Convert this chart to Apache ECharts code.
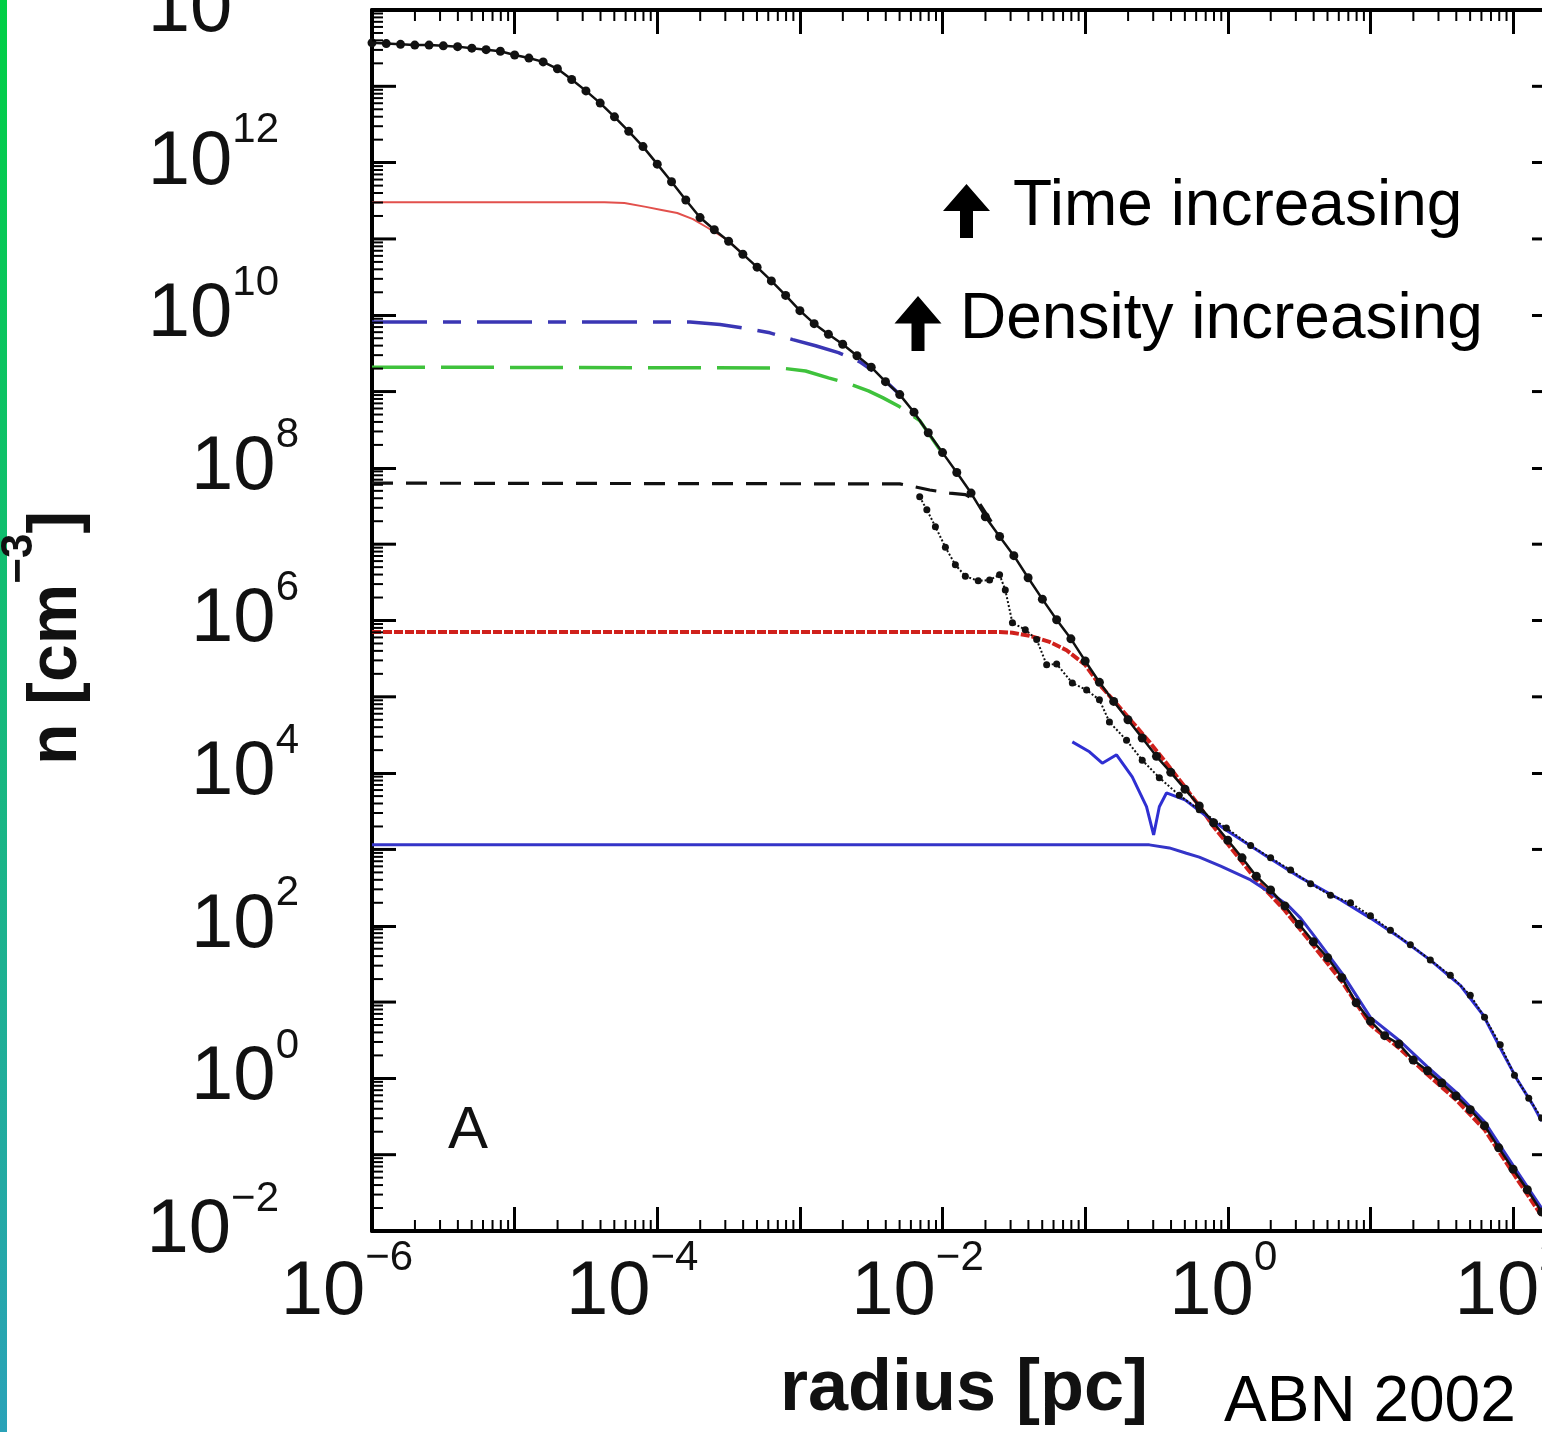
<!DOCTYPE html>
<html>
<head>
<meta charset="utf-8">
<script src="https://cdn.jsdelivr.net/npm/echarts@6/dist/echarts.min.js"></script>
<style>
  html, body { margin: 0; padding: 0; background: #fff; }
  #chart { width: 1542px; height: 1432px; }
</style>
</head>
<body>
<div id="chart"></div>
<script>
// Spherically averaged gas number density profiles, n(r), at successive times.
// All profile values are stored as log10(radius / pc) and log10(n / cm^-3).

// ---- axis ticks and labels ----
const xTickExponents = [-6, -5, -4, -3, -2, -1, 0, 1, 2];
const xLabelExponents = [-6, -4, -2, 0, 2];
const yTickExponents = [-2, -1, 0, 1, 2, 3, 4, 5, 6, 7, 8, 9, 10, 11, 12, 13];
const yLabelExponents = [-2, 0, 2, 4, 6, 8, 10, 12, 14];
const minorSteps = [2, 3, 4, 5, 6, 7, 8, 9];

// ---- final output: black line with filled dots ----
const finalLogR = [
  -6.0, -5.9, -5.8, -5.7, -5.6, -5.5, -5.4, -5.3, -5.2, -5.1,
  -5.0, -4.9, -4.8, -4.7, -4.6, -4.5, -4.4, -4.3, -4.2, -4.1,
  -4.0, -3.9, -3.8, -3.7, -3.6, -3.5, -3.4, -3.3, -3.2, -3.1,
  -3.0, -2.9, -2.8, -2.7, -2.6, -2.5, -2.4, -2.3, -2.2, -2.1,
  -2.0, -1.9, -1.8, -1.7, -1.6, -1.5, -1.4, -1.3, -1.2, -1.1,
  -1.0, -0.9, -0.8, -0.7, -0.6, -0.5, -0.4, -0.3, -0.2, -0.1,
  0.0, 0.1, 0.2, 0.3, 0.4, 0.5, 0.6, 0.7, 0.8, 0.9,
  1.0, 1.1, 1.2, 1.3, 1.4, 1.5, 1.6, 1.7, 1.8, 1.9,
  2.0, 2.1, 2.2
];
const finalLogN = [
  13.57, 13.56, 13.55, 13.54, 13.54, 13.53, 13.52, 13.50, 13.48, 13.46,
  13.41, 13.37, 13.32, 13.23, 13.09, 12.94, 12.78, 12.60, 12.41, 12.21,
  11.98, 11.75, 11.51, 11.28, 11.12, 10.97, 10.80, 10.63, 10.45, 10.26,
  10.06, 9.89, 9.75, 9.62, 9.47, 9.32, 9.13, 8.96, 8.73, 8.46,
  8.20, 7.94, 7.67, 7.36, 7.10, 6.85, 6.56, 6.28, 6.01, 5.76,
  5.47, 5.19, 4.94, 4.70, 4.46, 4.22, 4.01, 3.79, 3.57, 3.35,
  3.12, 2.89, 2.65, 2.47, 2.26, 2.02, 1.79, 1.58, 1.32, 0.99,
  0.75, 0.56, 0.45, 0.24, 0.10, -0.06, -0.23, -0.41, -0.62, -0.91,
  -1.19, -1.46, -1.75
];

// ---- thin red solid ----
const redThinLogR = [-6.0, -4.37, -4.23, -4.08, -3.97, -3.86, -3.75, -3.65, -3.51, -3.37];
const redThinLogN = [11.48, 11.48, 11.47, 11.42, 11.38, 11.34, 11.26, 11.15, 10.99, 10.75];

// ---- blue dash-dot ----
const blueDashDotLogR = [-6.0, -3.77, -3.56, -3.39, -3.21, -3.05, -2.89, -2.73, -2.58, -2.44, -2.30];
const blueDashDotLogN = [9.91, 9.91, 9.88, 9.83, 9.77, 9.68, 9.60, 9.51, 9.39, 9.21, 8.96];

// ---- green dashed ----
const greenLogR = [-6.0, -3.14, -2.96, -2.80, -2.65, -2.52, -2.42, -2.30, -2.16, -2.02];
const greenLogN = [9.32, 9.31, 9.27, 9.18, 9.10, 9.01, 8.92, 8.80, 8.62, 8.24];

// ---- black dashed ----
const blackDashLogR = [-6.0, -2.30, -2.19, -2.09, -1.95, -1.84, -1.75, -1.67, -1.60];
const blackDashLogN = [7.80, 7.79, 7.75, 7.71, 7.67, 7.65, 7.56, 7.33, 7.10];

// ---- thick red dashed ----
const redDashLogR = [-6.0, -1.60, -1.51, -1.39, -1.25, -1.13, -1.00, -0.90, -0.78, -0.67,
  -0.55, -0.43, -0.31, -0.20, -0.1, 0.0, 0.2, 0.4, 0.6, 0.8, 1.0, 1.2, 1.4, 1.6, 1.8, 2.0, 2.2];
const redDashLogN = [5.85, 5.85, 5.84, 5.80, 5.72, 5.61, 5.42, 5.16, 4.91, 4.67,
  4.41, 4.13, 3.84, 3.57, 3.30, 3.07, 2.60, 2.20, 1.74, 1.27, 0.70, 0.40, 0.05, -0.28, -0.67, -1.24, -1.80];

// ---- earliest profile, blue solid ----
const blueSolidLogR = [-6.0, -0.55, -0.41, -0.29, -0.20, -0.05, 0.16, 0.30, 0.42, 0.51,
  0.60, 0.8, 1.0, 1.2, 1.4, 1.6, 1.8, 2.0, 2.2];
const blueSolidLogN = [3.06, 3.06, 3.02, 2.95, 2.90, 2.78, 2.60, 2.43, 2.27, 2.10,
  1.88, 1.38, 0.80, 0.50, 0.15, -0.18, -0.57, -1.14, -1.70];

// ---- outer blue profile with the inner spike ----
const blueOuterLogR = [-1.09, -0.97, -0.88, -0.78, -0.67, -0.57, -0.52, -0.48, -0.43, -0.30,
  -0.16, -0.01, 0.28, 0.51, 0.79, 1.00, 1.21, 1.42, 1.63, 1.79, 1.93, 2.03, 2.14, 2.20];
const blueOuterLogN = [4.41, 4.28, 4.13, 4.24, 3.95, 3.56, 3.19, 3.56, 3.74, 3.65,
  3.45, 3.25, 2.90, 2.63, 2.34, 2.10, 1.84, 1.55, 1.22, 0.83, 0.33, -0.02, -0.35, -0.56];

// ---- black dotted profile with small dots ----
const dottedLogR = [-2.16, -2.11, -2.05, -1.98, -1.91, -1.84, -1.75, -1.67, -1.60, -1.56,
  -1.51, -1.42, -1.34, -1.27, -1.20, -1.09, -0.99, -0.90, -0.83, -0.71,
  -0.60, -0.48, -0.34, -0.20, -0.01, 0.16, 0.30, 0.44, 0.58, 0.72,
  0.86, 1.00, 1.14, 1.28, 1.42, 1.56, 1.70, 1.80, 1.91, 2.01, 2.11, 2.20];
const dottedLogN = [7.62, 7.45, 7.23, 6.96, 6.73, 6.58, 6.52, 6.53, 6.60, 6.40,
  5.97, 5.88, 5.75, 5.42, 5.43, 5.18, 5.09, 4.96, 4.67, 4.43,
  4.17, 3.94, 3.71, 3.52, 3.28, 3.05, 2.89, 2.73, 2.55, 2.40,
  2.30, 2.13, 1.94, 1.75, 1.55, 1.35, 1.09, 0.80, 0.44, 0.04, -0.26, -0.52];

// ---- helpers ----
const FONT = "'Liberation Sans', Arial, Helvetica, sans-serif";
const X_MIN = 1e-6, X_MAX = 200, Y_MIN = 1e-2, Y_MAX = 1e14;
const MAJOR_LEN = 24, MINOR_LEN = 11;
const MINUS = '\u2212';

function toPoints(logR, logN) {
  return logR.map((lr, i) => [Math.pow(10, lr), Math.pow(10, logN[i])]);
}
function exponentOf(v) { return Math.round(Math.log10(v)); }
function isPowerOfTen(v) { return Math.abs(Math.log10(v) - exponentOf(v)) < 1e-6; }

// tick marks that the log axes do not draw themselves
const tickMarks = [];
xTickExponents.forEach(e => minorSteps.forEach(m => {
  const v = m * Math.pow(10, e);
  if (v < X_MAX) tickMarks.push([v, Y_MIN, 0]);
}));
yTickExponents.forEach(e => {
  minorSteps.forEach(m => tickMarks.push([X_MIN, m * Math.pow(10, e), 1]));
  if (Math.abs(e) % 2 === 1) tickMarks.push([X_MIN, Math.pow(10, e), 2]);
});

function renderTicks(params, api) {
  const kind = api.value(2);
  const st = { stroke: '#000', lineWidth: kind === 2 ? 3 : 2 };
  if (kind === 0) {
    const v = api.value(0);
    const b = api.coord([v, Y_MIN]);
    const t = api.coord([v, Y_MAX]);
    return { type: 'group', children: [
      { type: 'line', shape: { x1: b[0], y1: b[1], x2: b[0], y2: b[1] - MINOR_LEN }, style: st },
      { type: 'line', shape: { x1: t[0], y1: t[1], x2: t[0], y2: t[1] + MINOR_LEN }, style: st }
    ] };
  }
  const len = kind === 2 ? MAJOR_LEN : MINOR_LEN;
  const v = api.value(1);
  const l = api.coord([X_MIN, v]);
  const r = api.coord([X_MAX, v]);
  return { type: 'group', children: [
    { type: 'line', shape: { x1: l[0], y1: l[1], x2: l[0] + len, y2: l[1] }, style: st },
    { type: 'line', shape: { x1: r[0], y1: r[1], x2: r[0] - len, y2: r[1] }, style: st }
  ] };
}

function arrowShape(cx, top, bottom) {
  const headH = (bottom - top) * 0.5, headW = 23.5, shaftW = 6.5;
  return [[cx, top], [cx + headW, top + headH], [cx + shaftW, top + headH], [cx + shaftW, bottom],
          [cx - shaftW, bottom], [cx - shaftW, top + headH], [cx - headW, top + headH]];
}

const baseLabel = { fontFamily: FONT, fontSize: 76, lineHeight: 76, color: '#111' };
const supLabel = { fontFamily: FONT, fontSize: 42, lineHeight: 76, color: '#111' };
const frameLine = { show: true, onZero: false, lineStyle: { color: '#000', width: 4 } };
const frameTick = { show: true, inside: true, length: MAJOR_LEN, lineStyle: { color: '#000', width: 3 } };

const chart = echarts.init(document.getElementById('chart'), null, { renderer: 'canvas' });

chart.setOption({
  animation: false,
  backgroundColor: '#fff',
  textStyle: { fontFamily: FONT },
  grid: { left: 372, top: 10, right: -14, bottom: 201, containLabel: false, outerBoundsMode: 'none' },
  xAxis: [{
    type: 'log', logBase: 10, min: X_MIN, max: X_MAX, position: 'bottom',
    axisLine: frameLine, axisTick: frameTick, splitLine: { show: false },
    axisLabel: {
      margin: 24,
      formatter: function (v) {
        if (!isPowerOfTen(v)) return '';
        const e = exponentOf(v);
        if (xLabelExponents.indexOf(e) < 0) return '';
        return '{b|10}{' + (e < 0 ? 'n' : 'p') + '|' + (e < 0 ? MINUS : '') + Math.abs(e) + '}';
      },
      rich: {
        b: baseLabel,
        n: Object.assign({}, supLabel, { padding: [0, 50, 70, 0] }),
        p: Object.assign({}, supLabel, { padding: [0, 9, 70, 0] })
      }
    },
    name: 'radius [pc]', nameLocation: 'middle', nameGap: 118,
    nameTextStyle: { fontFamily: FONT, fontSize: 72, fontWeight: 'bold', color: '#111', lineHeight: 72 }
  }, {
    type: 'log', logBase: 10, min: X_MIN, max: X_MAX, position: 'top',
    axisLine: frameLine, axisTick: frameTick, splitLine: { show: false },
    axisLabel: { show: false }
  }],
  yAxis: [{
    type: 'log', logBase: 100, min: Y_MIN, max: Y_MAX, position: 'left',
    axisLine: frameLine, axisTick: frameTick, splitLine: { show: false },
    axisLabel: {
      margin: 73,
      formatter: function (v) {
        const e = exponentOf(v);
        if (yLabelExponents.indexOf(e) < 0) return '';
        const wide = e < 0 || e >= 10;
        return '{b|10}{' + (wide ? 'w' : 's') + '|' + (e < 0 ? MINUS : '') + Math.abs(e) + '}';
      },
      rich: {
        b: baseLabel,
        s: Object.assign({}, supLabel, { padding: [0, 0, 64, 0] }),
        w: Object.assign({}, supLabel, { padding: [0, 20, 64, 0] })
      }
    },
    name: 'n [cm{s|' + MINUS + '3}]', nameLocation: 'middle', nameRotate: 90, nameGap: 281,
    nameTextStyle: {
      fontFamily: FONT, fontSize: 68, fontWeight: 'bold', color: '#111', lineHeight: 68,
      padding: [0, 35, 0, 0],
      rich: { s: { fontFamily: FONT, fontSize: 44, fontWeight: 'bold', color: '#111', lineHeight: 68, padding: [0, 0, 74, 0] } }
    }
  }, {
    type: 'log', logBase: 100, min: Y_MIN, max: Y_MAX, position: 'right',
    axisLine: frameLine, axisTick: frameTick, splitLine: { show: false },
    axisLabel: { show: false }
  }],
  series: [
    { type: 'custom', name: 'ticks', silent: true, clip: false, renderItem: renderTicks,
      dimensions: ['x', 'y', 'kind'], encode: { x: 0, y: 1 }, data: tickMarks, z: 5 },
    { type: 'line', name: 'red thin', data: toPoints(redThinLogR, redThinLogN), showSymbol: false,
      lineStyle: { color: '#e2504c', width: 2 }, z: 2 },
    { type: 'line', name: 'blue dash-dot', data: toPoints(blueDashDotLogR, blueDashDotLogN), showSymbol: false,
      lineStyle: { color: '#3a36b4', width: 3.5, type: [55, 16, 18, 16] }, z: 2 },
    { type: 'line', name: 'green dashed', data: toPoints(greenLogR, greenLogN), showSymbol: false,
      lineStyle: { color: '#3fc23c', width: 3.5, type: [53, 16] }, z: 2 },
    { type: 'line', name: 'black dashed', data: toPoints(blackDashLogR, blackDashLogN), showSymbol: false,
      lineStyle: { color: '#111', width: 3.2, type: [21, 13] }, z: 2 },
    { type: 'line', name: 'red dashed', data: toPoints(redDashLogR, redDashLogN), showSymbol: false,
      lineStyle: { color: '#d0211c', width: 4, type: [9, 2] }, z: 2 },
    { type: 'line', name: 'blue solid', data: toPoints(blueSolidLogR, blueSolidLogN), showSymbol: false,
      lineStyle: { color: '#3434c8', width: 3 }, z: 2 },
    { type: 'line', name: 'blue outer', data: toPoints(blueOuterLogR, blueOuterLogN), showSymbol: false,
      lineStyle: { color: '#2f2fd2', width: 3 }, z: 3 },
    { type: 'line', name: 'black dotted', data: toPoints(dottedLogR, dottedLogN),
      symbol: 'circle', symbolSize: 7, itemStyle: { color: '#111' },
      lineStyle: { color: '#111', width: 2, type: 'dotted' }, z: 4 },
    { type: 'line', name: 'final', data: toPoints(finalLogR, finalLogN),
      symbol: 'circle', symbolSize: 9, itemStyle: { color: '#111' },
      lineStyle: { color: '#111', width: 2.5 }, z: 4 }
  ],
  graphic: [
    { type: 'rect', left: 0, top: 0, shape: { x: 0, y: 0, width: 7, height: 1432 },
      style: { fill: new echarts.graphic.LinearGradient(0, 0, 0, 1, [
        { offset: 0, color: '#00cf45' }, { offset: 0.5, color: '#16b97c' }, { offset: 1, color: '#2aa2b8' }]) } },
    { type: 'polygon', shape: { points: arrowShape(966.5, 184, 238) }, style: { fill: '#000' } },
    { type: 'polygon', shape: { points: arrowShape(918, 296, 351) }, style: { fill: '#000' } },
    { type: 'text', x: 1013, y: 207, style: { text: 'Time increasing', font: '64px ' + FONT, fill: '#000', align: 'left', verticalAlign: 'middle' } },
    { type: 'text', x: 960, y: 320, style: { text: 'Density increasing', font: '64px ' + FONT, fill: '#000', align: 'left', verticalAlign: 'middle' } },
    { type: 'text', x: 1224, y: 1403, style: { text: 'ABN 2002', font: '64px ' + FONT, fill: '#000', align: 'left', verticalAlign: 'middle' } },
    { type: 'text', x: 468, y: 1131, style: { text: 'A', font: '60px ' + FONT, fill: '#111', align: 'center', verticalAlign: 'middle' } }
  ]
});
</script>
</body>
</html>
